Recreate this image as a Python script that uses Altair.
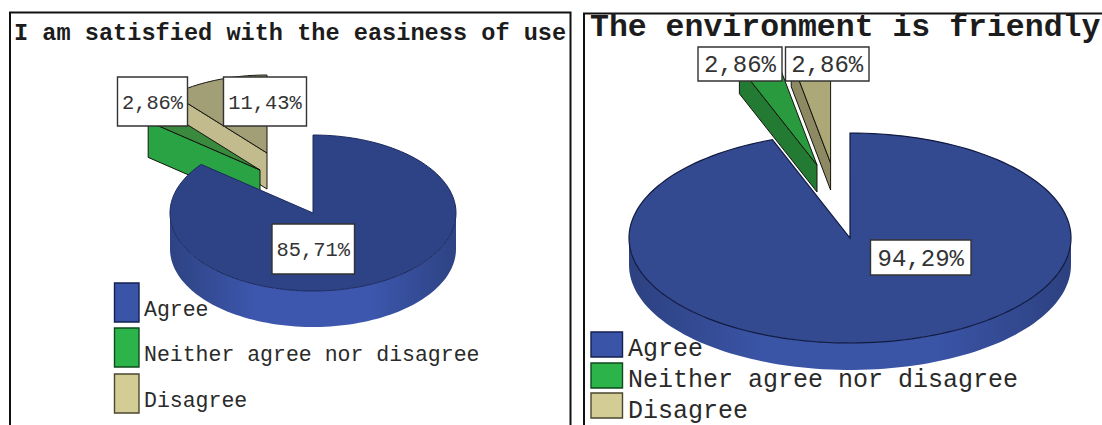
import math
import altair as alt

CATEGORIES = ["Agree", "Neither agree nor disagree", "Disagree"]
SHARES_LEFT = [85.71, 2.86, 11.43]
SHARES_RIGHT = [94.29, 2.86, 2.86]
TITLE_LEFT = "I am satisfied with the easiness of use"
TITLE_RIGHT = "The environment is friendly"

# Per-panel geometry and styling
PANELS = [
    dict(
        title=TITLE_LEFT, shares=SHARES_LEFT,
        frame=(10, 12.5, 570.5, 440), cx=313, cy=213, rx=143, ry=78, depth=36,
        shift=[(0, 0), (-53, -43), (-46, -60)],
        top=["#2e4286", "#3a8a3e", "#a29e76"],
        wall=[None, "#2aa344", "#c2bb8d"],
        edge="#1b2a5e", edge_width=1.0,
        wall_dark="#2e4383", wall_light="#3c57ad",
        boxes=[(272, 224, 354.5, 274), (117.5, 77, 187.5, 126), (223.5, 77, 306.5, 126)],
        box_size=20.4, title_xy=(14, 33), title_size=23.6,
        swatches=[(114.5, 283, 139, 322), (114.5, 328, 139, 367), (114.5, 374, 139, 413)],
        legend_x=144, legend_y=[310, 355, 401], legend_size=21.5,
    ),
    dict(
        title=TITLE_RIGHT, shares=SHARES_RIGHT,
        frame=(584, 13.5, 1110, 440), cx=850, cy=238, rx=221, ry=105, depth=27,
        shift=[(0, 0), (-33, -73), (-19.4, -75)],
        top=["#334a90", "#2a9a3e", "#aca877"],
        wall=[None, "#237b33", "#8d8a63"],
        edge="#111a40", edge_width=1.2,
        wall_dark="#2d4180", wall_light="#3a54a6",
        boxes=[(870.5, 240, 971, 275), (698, 47, 782, 81), (785.5, 47, 869, 81)],
        box_size=24, title_xy=(590, 27), title_size=31.5,
        swatches=[(591, 332, 622.5, 357), (591, 363, 622.5, 388), (591, 393, 622.5, 418)],
        legend_x=628, legend_y=[348, 379, 410], legend_size=25,
    ),
]
SWATCH_FILL = ["#3a55a8", "#2cb34a", "#d3cc94"]
SWATCH_EDGE = ["#14204f", "#0f4a1e", "#4a4630"]
INK = "#1c1c1c"


def shape(points, fill, stroke, width=1.0):
    ring = [[round(x, 2), round(y, 2)] for x, y in points]
    ring.append(ring[0])
    return {
        "type": "Feature",
        "geometry": {"type": "Polygon", "coordinates": [ring]},
        "properties": {},
        "paint": fill,
        "line": stroke,
        "weight": width,
    }


def box(b, fill, stroke, width=1.0):
    x0, y0, x1, y1 = b
    return shape([(x0, y0), (x1, y0), (x1, y1), (x0, y1)], fill, stroke, width)


def rim(p, deg, cx, cy):
    a = math.radians(deg)
    return cx + p["rx"] * math.sin(a), cy - p["ry"] * math.cos(a)


def arc(p, start, end, cx, cy, step=2.0):
    n = max(2, int(abs(end - start) / step) + 1)
    return [rim(p, start + (end - start) * i / n, cx, cy) for i in range(n + 1)]


back_shapes = []
front_shapes = []
plain_text = []
bold_text = []
value_text = []
wall_layers = []

PROJECTION = dict(type="identity", scale=1, translate=[0, 0], reflectY=False)


def shape_layer(rows):
    return alt.Chart(alt.Data(values=rows)).mark_geoshape().encode(
        fill=alt.Fill("paint:N", scale=None),
        stroke=alt.Stroke("line:N", scale=None),
        strokeWidth=alt.StrokeWidth("weight:Q", scale=None),
    ).project(**PROJECTION)


for p in PANELS:
    back_shapes.append(box(p["frame"], "#ffffff", "#111111", 2.0))

    # Turn the shares into clockwise angle spans starting from twelve o'clock
    spans = []
    run = 0.0
    for v in p["shares"]:
        spans.append((run * 3.6, (run + v) * 3.6))
        run += v
    spans[-1] = (spans[-1][0], 360.0)

    # Exploded slices at the back
    for i in (2, 1):
        start, end = spans[i]
        cx = p["cx"] + p["shift"][i][0]
        cy = p["cy"] + p["shift"][i][1]
        ox, oy = rim(p, start, cx, cy)
        d = p["depth"]
        back_shapes.append(shape([(ox, oy), (cx, cy), (cx, cy + d), (ox, oy + d)],
                                 p["wall"][i], "#15150f", 1.0))
        back_shapes.append(shape([(cx, cy)] + arc(p, start, end, cx, cy),
                                 p["top"][i], "#15150f", 1.0))

    # Outer wall of the large slice, with a horizontal shading
    start, end = spans[0]
    cx, cy = p["cx"], p["cy"]
    d = p["depth"]
    rim_top = arc(p, 90, 270, cx, cy)
    rim_low = [(x, y + d) for x, y in reversed(rim_top)]
    wall_row = shape(rim_top + rim_low, "#000000", "#000000", 0)
    shade = alt.LinearGradient(
        gradient="linear", x1=0, x2=1, y1=0, y2=0,
        stops=[
            alt.GradientStop(color=p["wall_dark"], offset=0),
            alt.GradientStop(color=p["wall_light"], offset=0.3),
            alt.GradientStop(color=p["wall_light"], offset=0.7),
            alt.GradientStop(color=p["wall_dark"], offset=1),
        ],
    )
    wall_layers.append(
        alt.Chart(alt.Data(values=[wall_row]))
        .mark_geoshape(fill=shade, stroke="transparent", strokeWidth=0)
        .project(**PROJECTION)
    )

    front_shapes.append(shape([(cx, cy)] + arc(p, start, end, cx, cy),
                              p["top"][0], p["edge"], p["edge_width"]))

    # Value labels on white boxes
    for b, v in zip(p["boxes"], p["shares"]):
        front_shapes.append(box(b, "#ffffff", "#333333", 1.4))
        value_text.append(dict(t=f"{v:.2f}".replace(".", ",") + "%", x=(b[0] + b[2]) / 2,
                               y=(b[1] + b[3]) / 2 + 1, size=p["box_size"], ink="#333333"))

    # Legend
    for s, fill, line, name, ly in zip(p["swatches"], SWATCH_FILL, SWATCH_EDGE,
                                       CATEGORIES, p["legend_y"]):
        front_shapes.append(box(s, fill, line, 1.4))
        plain_text.append(dict(t=name, x=p["legend_x"], y=ly, size=p["legend_size"], ink="#2a2a2a"))

    bold_text.append(dict(t=p["title"], x=p["title_xy"][0], y=p["title_xy"][1],
                          size=p["title_size"], ink=INK))


def text_layer(rows, **mark):
    return alt.Chart(alt.Data(values=rows)).mark_text(
        font="Liberation Mono", baseline="middle", **mark
    ).encode(
        x=alt.X("x:Q", scale=alt.Scale(domain=[0, 1102], nice=False, zero=False), axis=None),
        y=alt.Y("y:Q", scale=alt.Scale(domain=[0, 425], reverse=True, nice=False, zero=False), axis=None),
        text="t:N",
        size=alt.Size("size:Q", scale=None),
        color=alt.Color("ink:N", scale=None),
    )


chart = alt.layer(
    shape_layer(back_shapes),
    *wall_layers,
    shape_layer(front_shapes),
    text_layer(plain_text, align="left"),
    text_layer(bold_text, align="left", fontWeight="bold"),
    text_layer(value_text, align="center"),
).properties(
    width=1102, height=425, padding=0,
    autosize=alt.AutoSizeParams(type="none"),
    background="#ffffff",
).configure_view(strokeWidth=0)

chart.save("out.html", embed_options={"renderer": "svg", "actions": False})
